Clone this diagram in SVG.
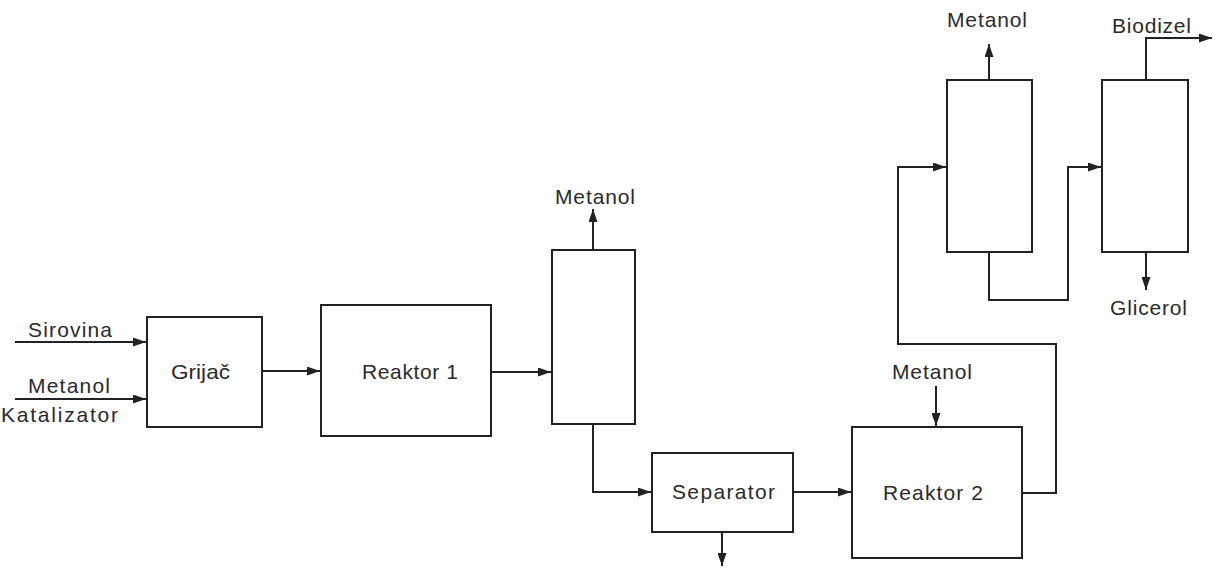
<svg xmlns="http://www.w3.org/2000/svg" width="1215" height="573" viewBox="0 0 1215 573">
<style>
.box{fill:#fff;stroke:#222;stroke-width:2}
.ln{fill:none;stroke:#222;stroke-width:2;marker-end:url(#ah)}
text{font-family:"Liberation Sans",Arial,sans-serif;font-size:21px;fill:#2a2a2a}
</style>
<defs>
<marker id="ah" viewBox="0 0 13 9" refX="13" refY="4.5" markerWidth="13" markerHeight="9" markerUnits="userSpaceOnUse" orient="auto">
<path d="M0,0 L13,4.5 L0,9 z" fill="#222"/>
</marker>
</defs>
<rect width="1215" height="573" fill="#fff"/>
<g id="connectors">
<line class="ln" x1="15" y1="342" x2="146" y2="342"/>
<line class="ln" x1="15" y1="399" x2="146" y2="399"/>
<line class="ln" x1="262" y1="371" x2="320" y2="371"/>
<line class="ln" x1="491" y1="372" x2="551" y2="372"/>
<line class="ln" x1="593" y1="250" x2="593" y2="209"/>
<polyline class="ln" points="593,424 593,492 651,492"/>
<line class="ln" x1="793" y1="492" x2="851" y2="492"/>
<line class="ln" x1="722" y1="532" x2="722" y2="566"/>
<line class="ln" x1="936" y1="386" x2="936" y2="426"/>
<polyline class="ln" points="1022,493 1056,493 1056,344 898,344 898,167 946,167"/>
<line class="ln" x1="989" y1="80" x2="989" y2="44"/>
<polyline class="ln" points="989,252 989,300 1068,300 1068,167 1101,167"/>
<polyline class="ln" points="1146,80 1146,38 1212,38"/>
<line class="ln" x1="1146" y1="252" x2="1146" y2="290"/>
</g>
<g id="grijac"><rect class="box" x="147" y="317" width="115" height="110"/><text x="171" y="379" textLength="59" lengthAdjust="spacingAndGlyphs">Grijač</text></g>
<g id="reaktor1"><rect class="box" x="321" y="305" width="170" height="131"/><text x="362" y="379" textLength="96" lengthAdjust="spacing">Reaktor 1</text></g>
<g id="kolona1"><rect class="box" x="552" y="250" width="83" height="174"/></g>
<g id="separator"><rect class="box" x="652" y="453" width="141" height="79"/><text x="672" y="499" textLength="103" lengthAdjust="spacing">Separator</text></g>
<g id="reaktor2"><rect class="box" x="852" y="427" width="170" height="131"/><text x="883" y="500" textLength="100" lengthAdjust="spacing">Reaktor 2</text></g>
<g id="kolona2"><rect class="box" x="947" y="80" width="85" height="172"/></g>
<g id="kolona3"><rect class="box" x="1102" y="80" width="86" height="172"/></g>
<g id="labels">
<text x="28" y="337" textLength="84" lengthAdjust="spacing">Sirovina</text>
<text x="28" y="393" textLength="82" lengthAdjust="spacing">Metanol</text>
<text x="1" y="422" textLength="117" lengthAdjust="spacing">Katalizator</text>
<text x="555" y="204" textLength="80" lengthAdjust="spacing">Metanol</text>
<text x="892" y="379" textLength="80" lengthAdjust="spacing">Metanol</text>
<text x="947" y="27" textLength="80" lengthAdjust="spacing">Metanol</text>
<text x="1112" y="33" textLength="79" lengthAdjust="spacing">Biodizel</text>
<text x="1110" y="315" textLength="77" lengthAdjust="spacing">Glicerol</text>
</g>
</svg>
